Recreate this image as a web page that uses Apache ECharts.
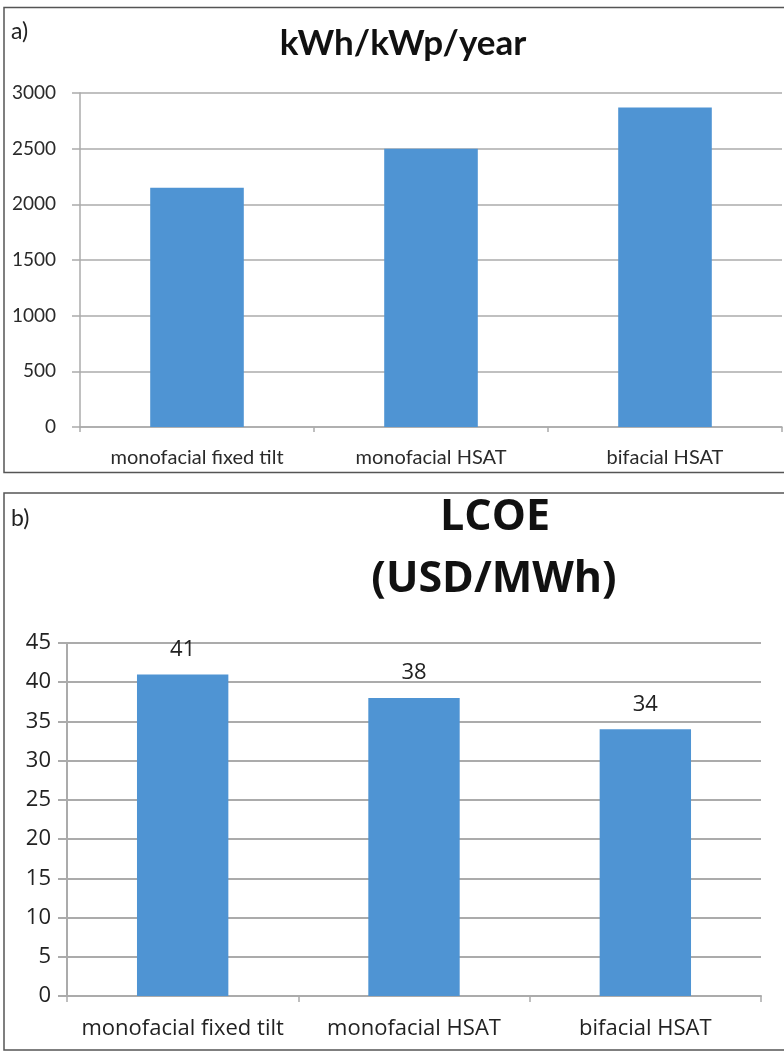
<!DOCTYPE html>
<html>
<head>
<meta charset="utf-8">
<script src="https://cdn.jsdelivr.net/npm/echarts@6/dist/echarts.min.js"></script>
<style>
html,body{margin:0;padding:0;background:#fff;}
#c{width:784px;height:1054px;}
</style>
</head>
<body>
<div id="c"></div>
<script>
// ---- data ----
var categories = ['monofacial fixed tilt', 'monofacial HSAT', 'bifacial HSAT'];
var yieldValues = [2150, 2500, 2870];      // kWh/kWp/year
var lcoeValues = [41, 38, 34];             // USD/MWh
var titleA = 'kWh/kWp/year';
var titleB = ['LCOE', '(USD/MWh)'];
var panelLabels = ['a)', 'b)'];

var BAR = '#4f94d3';
var GRID = '#ababab';
var chart = echarts.init(document.getElementById('c'), null, {renderer: 'canvas'});
function plain(v) { return String(v); }

var option = {
  backgroundColor: '#fff',
  animation: false,
  grid: [
    {left: 80, top: 93, width: 702, height: 334},
    {left: 67, top: 643, width: 694, height: 353}
  ],
  xAxis: [
    {
      gridIndex: 0, type: 'category', data: categories,
      axisLine: {lineStyle: {color: GRID, width: 1.5}},
      axisTick: {show: true, length: 5, lineStyle: {color: GRID, width: 1.5}},
      axisLabel: {interval: 0, margin: 21, color: '#2a2a2a', fontFamily: 'Lato', fontSize: 20}
    },
    {
      gridIndex: 1, type: 'category', data: categories,
      axisLine: {lineStyle: {color: GRID, width: 2}},
      axisTick: {show: true, length: 6, lineStyle: {color: GRID, width: 1.5}},
      axisLabel: {interval: 0, margin: 22, color: '#222', fontFamily: 'Open Sans', fontSize: 22}
    }
  ],
  yAxis: [
    {
      gridIndex: 0, type: 'value', min: 0, max: 3000, interval: 500,
      axisLine: {show: true, lineStyle: {color: GRID, width: 1.5}},
      axisTick: {show: true, length: 8, lineStyle: {color: GRID, width: 1.5}},
      splitLine: {lineStyle: {color: GRID, width: 1.5}},
      axisLabel: {margin: 24, color: '#2a2a2a', fontFamily: 'Lato', fontSize: 19, formatter: plain}
    },
    {
      gridIndex: 1, type: 'value', min: 0, max: 45, interval: 5,
      axisLine: {show: true, lineStyle: {color: GRID, width: 2}},
      axisTick: {show: true, length: 9, lineStyle: {color: GRID, width: 2}},
      splitLine: {lineStyle: {color: GRID, width: 2}},
      axisLabel: {margin: 16, color: '#222', fontFamily: 'Open Sans', fontSize: 22, formatter: plain}
    }
  ],
  series: [
    {
      type: 'bar', xAxisIndex: 0, yAxisIndex: 0, data: yieldValues,
      barWidth: '40%', itemStyle: {color: BAR}
    },
    {
      type: 'bar', xAxisIndex: 1, yAxisIndex: 1, data: lcoeValues,
      barWidth: '39.5%', itemStyle: {color: BAR},
      label: {show: true, position: 'top', distance: 14, color: '#222',
              fontFamily: 'Open Sans', fontSize: 22}
    }
  ],
  graphic: [
    {type: 'rect', z: -1, silent: true,
     shape: {x: 4, y: 7.5, width: 800, height: 465},
     style: {fill: 'none', stroke: '#555', lineWidth: 1.5}},
    {type: 'rect', z: -1, silent: true,
     shape: {x: 4, y: 493, width: 800, height: 557},
     style: {fill: 'none', stroke: '#555', lineWidth: 1.5}},
    {type: 'text', x: 11, y: 32,
     style: {text: panelLabels[0], fontSize: 23, fontFamily: 'Lato', fill: '#222', verticalAlign: 'middle'}},
    {type: 'text', x: 11, y: 519,
     style: {text: panelLabels[1], fontSize: 23, fontFamily: 'Lato', fill: '#222', verticalAlign: 'middle'}},
    {type: 'text', x: 403, y: 44,
     style: {text: titleA, font: 'bold 35px Lato', fill: '#111', align: 'center', verticalAlign: 'middle'}},
    {type: 'text', x: 495, y: 518,
     style: {text: titleB[0], font: 'bold 43px "Open Sans"', fill: '#111', align: 'center', verticalAlign: 'middle'}},
    {type: 'text', x: 494, y: 580,
     style: {text: titleB[1], font: 'bold 43px "Open Sans"', fill: '#111', align: 'center', verticalAlign: 'middle'}}
  ]
};
chart.setOption(option);
</script>
</body>
</html>
